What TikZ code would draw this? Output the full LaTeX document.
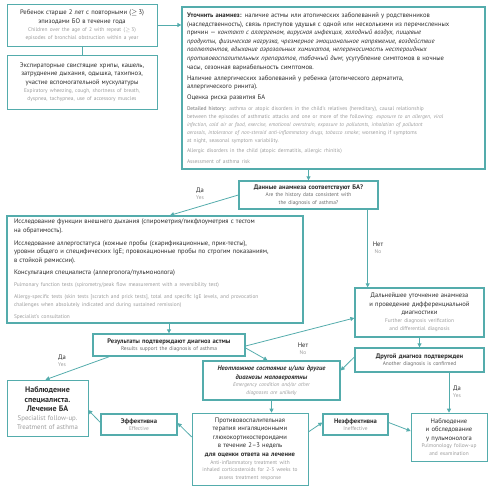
\documentclass[tikz,border=0pt]{standalone}
\usepackage{fontspec}
\setmainfont{PT Sans}
\usepackage{xcolor}
\usepackage{tikz}
\usetikzlibrary{arrows.meta}

\definecolor{tealline}{RGB}{84,172,172}
\definecolor{rutext}{RGB}{45,45,45}
\definecolor{engray}{RGB}{155,155,155}
\definecolor{engrayd}{RGB}{105,105,105}

\newcommand{\rusize}{\fontsize{6.6}{8.6}\selectfont}
\newcommand{\entxt}{\color{engray}\fontsize{5.4}{8}\selectfont}
\newcommand{\gap}{\par\vspace{2.5pt}}
\newcommand{\biggap}{\par\vspace{4pt}}

\tikzset{
  box/.style={draw=tealline, line width=0.6pt, align=center, inner sep=3pt,
    font=\rusize, text=rutext},
  thickbox/.style={box, line width=1.3pt},
  link/.style={draw=tealline, line width=0.8pt, -{Triangle[length=4pt,width=4pt]}},
  lbl/.style={align=center, inner sep=0pt, text width=24pt, font=\rusize, text=rutext}
}

\begin{document}
\begin{tikzpicture}[x=1pt,y=-1pt]
\useasboundingbox (0,0) rectangle (491,500);

\node[box, minimum width=150pt, text width=144pt, minimum height=42pt] (child) at (82,25)
  {Ребенок старше 2 лет с повторными ($\geq$\,3)\\ эпизодами БО в течение года\par
   {\entxt Children over the age of 2 with repeat ($\geq$\,3)\\ episodes of bronchial obstruction within a year\par}};

\node[box, minimum width=150pt, text width=144pt, minimum height=54pt] (symptoms) at (82,82)
  {Экспираторные свистящие хрипы, кашель,\\ затруднение дыхания, одышка, тахипноэ,\\ участие вспомогательной мускулатуры\par
   {\entxt Expiratory wheezing, cough, shortness of breath,\\ dyspnea, tachypnea, use of accessory muscles\par}};

\node[thickbox, align=left, inner xsep=5pt, minimum width=303pt, text width=293pt, minimum height=162pt] (history) at (333.5,88)
  {\textbf{Уточнить анамнез:} наличие астмы или атопических заболеваний у родственников\\
   (наследственность), связь приступов удушья с одной или несколькими из перечисленных\\
   причин — \textit{контакт с аллергеном, вирусная инфекция, холодный воздух, пищевые}\\
   \textit{продукты, физическая нагрузка, чрезмерное эмоциональное напряжение, воздействие}\\
   \textit{поллютантов, вдыхание аэрозольных химикатов, непереносимость нестероидных}\\
   \textit{противовоспалительных препаратов, табачный дым}; усугубление симптомов в ночные\\
   часы, сезонная вариабельность симптомов.\gap
   Наличие аллергических заболеваний у ребенка (атопического дерматита,\\
   аллергического ринита).\gap
   Оценка риска развития БА\gap
   {\entxt \textbf{Detailed history:} asthma or atopic disorders in the child's relatives (hereditary), causal relationship\\
   between the episodes of asthmatic attacks and one or more of the following: \textit{exposure to an allergen, viral}\\
   \textit{infection, cold air or food, exercise, emotional overstrain, exposure to pollutants, inhalation of pollutant}\\
   \textit{aerosols, intolerance of non-steroid anti-inflammatory drugs, tobacco smoke}; worsening if symptoms\\
   at night, seasonal symptom variability.\gap
   Allergic disorders in the child (atopic dermatitis, allergic rhinitis)\gap
   Assessment of asthma risk\par}};

\node[thickbox, minimum width=139pt, text width=133pt, minimum height=28pt] (consistent) at (308.5,195)
  {\textbf{Данные анамнеза соответствуют БА?}\par
   {\entxt\color{engrayd}\fontsize{5.4}{7.4}\selectfont Are the history data consistent with\\ the diagnosis of asthma?\par}};

\node[thickbox, align=left, inner xsep=7pt, minimum width=296pt, text width=282pt, minimum height=107pt] (tests) at (155,269.5)
  {Исследование функции внешнего дыхания (спирометрия/пикфлоуметрия с тестом\\
   на обратимость).\biggap
   Исследование аллергостатуса (кожные пробы (скарификационные, прик-тесты),\\
   уровни общего и специфических IgE; провокационные пробы по строгим показаниям,\\
   в стойкой ремиссии).\biggap
   Консультация специалиста (аллерголога/пульмонолога)\biggap
   {\entxt Pulmonary function tests (spirometry/peak flow measurement with a reversibility test)\biggap
   Allergy-specific tests (skin tests [scratch and prick tests], total and specific IgE levels, and provocation\\
   challenges when absolutely indicated and during sustained remission)\biggap
   Specialist's consultation\par}};

\node[thickbox, minimum width=129pt, text width=123pt, minimum height=49pt] (further) at (419.5,312.5)
  {Дальнейшее уточнение анамнеза\\ и проведение дифференциальной\\ диагностики\par
   {\entxt Further diagnosis verification\\ and differential diagnosis\par}};

\node[thickbox, minimum width=152pt, text width=146pt, minimum height=22pt] (results) at (169,345)
  {\textbf{Результаты подтверждают диагноз астмы}\par
   {\entxt\color{engrayd}\fontsize{5.4}{7.4}\selectfont Results support the diagnosis of asthma\par}};

\node[thickbox, minimum width=137pt, text width=131pt, minimum height=39pt] (emergency) at (271.5,380.5)
  {\textbf{\textit{Неотложное состояние и/или другие\\ диагнозы маловероятны}}\par
   {\entxt\itshape\fontsize{5.4}{7.6}\selectfont Emergency condition and/or other\\ diagnoses are unlikely\par}};

\node[thickbox, minimum width=129pt, text width=123pt, minimum height=24pt] (other) at (419.5,360)
  {\textbf{Другой диагноз подтвержден}\par
   {\entxt\color{engrayd}\fontsize{5.4}{7.4}\selectfont Another diagnosis is confirmed\par}};

\node[box, minimum width=116pt, text width=110pt, minimum height=72pt] (therapy) at (250,449)
  {Противовоспалительная\\ терапия ингаляционными\\ глюкокортикостероидами\\ в течение 2–3 недель\\ \textbf{для оценки ответа на лечение}\par
   {\entxt\fontsize{5.4}{7.6}\selectfont Anti-inflammatory treatment with\\ inhaled corticosteroids for 2-3 weeks to\\ assess treatment response\par}};

\node[box, minimum width=76pt, text width=70pt, minimum height=48pt] (pulmo) at (449,437)
  {Наблюдение\\ и обследование\\ у пульмонолога\par
   {\entxt\fontsize{5.4}{7.4}\selectfont Pulmonology follow-up\\ and examination\par}};

\node[thickbox, minimum width=65pt, text width=59pt, minimum height=21pt] (ineffective) at (355.5,424.5)
  {\textbf{Неэффективна}\par{\entxt\fontsize{5.4}{7.4}\selectfont Ineffective\par}};

\node[box, minimum width=81pt, text width=75pt, minimum height=56pt] (specialist) at (47.5,408)
  {\fontsize{8}{9.6}\selectfont\textbf{Наблюдение\\ специалиста.\\ Лечение БА}\par
   {\color{engray}\fontsize{6.8}{8.6}\selectfont Specialist follow-up.\\ Treatment of asthma\par}};

\node[thickbox, minimum width=76pt, text width=70pt, minimum height=21pt] (effective) at (139,424.5)
  {\textbf{Эффективна}\par{\entxt\fontsize{5.4}{7.4}\selectfont Effective\par}};

\node[lbl] (yesA) at (200,194) {Да\par{\entxt\fontsize{5.4}{7.4}\selectfont Yes\par}};
\node[lbl] (noA) at (378,248) {Нет\par{\entxt\fontsize{5.4}{7.4}\selectfont No\par}};
\node[lbl] (noB) at (303,349) {Нет\par{\entxt\fontsize{5.4}{7.4}\selectfont No\par}};
\node[lbl] (yesB) at (62,361) {Да\par{\entxt\fontsize{5.4}{7.4}\selectfont Yes\par}};
\node[lbl] (yesC) at (457,392) {Да\par{\entxt\fontsize{5.4}{7.4}\selectfont Yes\par}};

\draw[draw=tealline, line width=0.8pt] (child.south) -- (symptoms.north);
\draw[link] (child.east) -- (child.east -| history.west);
\draw[link] (history.south -| consistent.north) -- (consistent.north);
\draw[link] (consistent.west) -- ([xshift=15pt]tests.north);
\draw[link] ([xshift=-11pt]consistent.south east) -- ([xshift=-11pt]consistent.south east |- further.north);
\draw[link] (results.north |- tests.south) -- (results.north);
\draw[link] ([yshift=-1pt]results.east) -- ([yshift=-5.5pt]further.west);
\draw[link] ([yshift=-3pt]results.east) -- ([xshift=-4pt]emergency.north);
\draw[link] (other.north |- further.south) -- (other.north);
\draw[link] ([yshift=3pt]other.west) -- ([yshift=10pt]emergency.east);
\draw[link] (pulmo.north |- other.south) -- (pulmo.north);
\draw[link] (emergency.south) -- (emergency.south |- therapy.north);
\draw[link] ([xshift=17pt]results.south west) -- ([xshift=-2pt]specialist.north);
\draw[link] ([yshift=12pt]therapy.west) -- ([yshift=1.5pt]effective.east);
\draw[link] ([yshift=2pt]effective.west) -- ([yshift=-2pt]specialist.east);
\draw[link] ([yshift=17pt]therapy.east) -- ([yshift=2pt]ineffective.west);
\draw[link] ([yshift=2pt]ineffective.east) -- ([yshift=6pt]pulmo.west);
\end{tikzpicture}
\end{document}
